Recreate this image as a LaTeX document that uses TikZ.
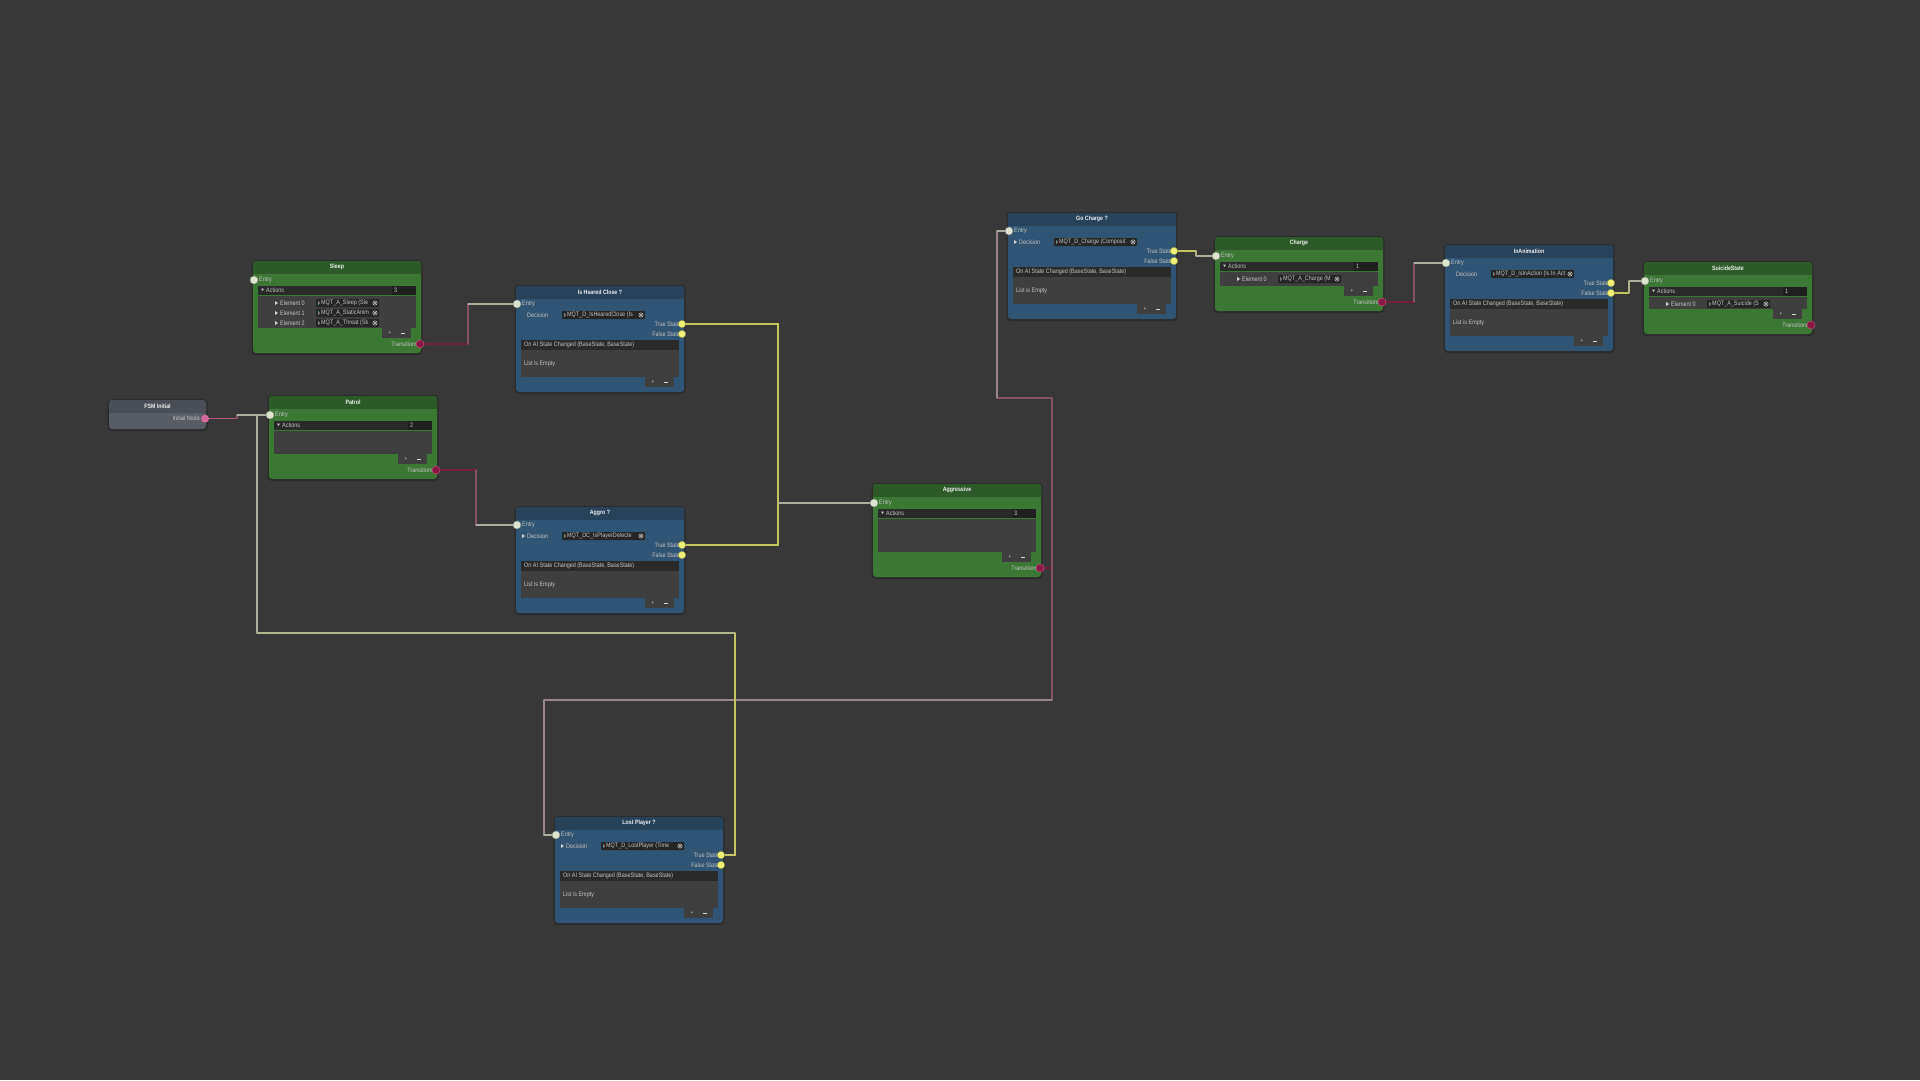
\documentclass[tikz,border=0pt]{standalone}
\usepackage{fontspec}
\setmainfont{Liberation Sans}[FakeStretch=0.85]
\usetikzlibrary{calc}
\pgfdeclarelayer{bg}
\pgfdeclarelayer{edges}
\pgfsetlayers{bg,edges,main}

\definecolor{canvas}{HTML}{383838}
\definecolor{greenbody}{HTML}{3A7834}
\definecolor{greenhead}{HTML}{2D5A28}
\definecolor{bluebody}{HTML}{305473}
\definecolor{bluehead}{HTML}{28425A}
\definecolor{fsmbody}{HTML}{585C64}
\definecolor{fsmhead}{HTML}{4A4E56}
\definecolor{bardark}{HTML}{2A2A2A}
\definecolor{countdark}{HTML}{202020}
\definecolor{listbody}{HTML}{3F3F3F}
\definecolor{fielddark}{HTML}{252525}
\definecolor{labelc}{HTML}{C4C4C4}
\definecolor{titlec}{HTML}{EEEEEE}
\definecolor{entryc}{HTML}{DDE4D0}
\definecolor{statec}{HTML}{F0F078}
\definecolor{transc}{HTML}{8A1744}
\definecolor{transrim}{HTML}{C0507E}
\definecolor{initc}{HTML}{D46A9E}
\definecolor{trA}{HTML}{741E40}
\definecolor{trB}{HTML}{865268}
\definecolor{trC}{HTML}{98848A}
\definecolor{paleC}{HTML}{AEAE9E}
\definecolor{ylA}{HTML}{C4C462}
\definecolor{ylB}{HTML}{B4B48A}
\definecolor{pkA}{HTML}{B85886}
\definecolor{iconA}{HTML}{B04A4A}
\definecolor{iconB}{HTML}{4A8C8C}

\tikzset{
  lbl/.style={inner sep=0pt, text=labelc, font=\fontsize{6.4}{7}\selectfont},
  ttl/.style={inner sep=0pt, text=titlec, font=\bfseries\fontsize{6.2}{7}\selectfont},
  inport/.style={circle, inner sep=0pt, minimum size=8, fill=entryc, draw=entryc!60!black, line width=0.4},
  stateport/.style={circle, inner sep=0pt, minimum size=7.5, fill=statec, draw=statec!60!black, line width=0.4},
  transport/.style={circle, inner sep=0pt, minimum size=8, fill=transc, draw=transrim, line width=0.5},
  initport/.style={circle, inner sep=0pt, minimum size=8, fill=initc},
  edge/.style={line width=1.05, line cap=round},
  shade/.style={black, opacity=0.22, rounded corners=4},
}

% object field: dark box, script icon, clipped name, clear button
\newcommand{\valuefield}[4]{%
  \fill[fielddark, rounded corners=0.8] (#1,#3-4) rectangle (#2,#3+4);
  \fill[iconB] (#1+2.3,#3-1.8) rectangle (#1+3.1,#3+1.8);
  \fill[iconA] (#1+3.1,#3-0.8) rectangle (#1+3.9,#3+1.2);
  \begin{scope}
    \clip (#1,#3-4) rectangle (#2-7,#3+4);
    \node[lbl, anchor=west] at (#1+5,#3) {#4};
  \end{scope}
  \draw[labelc, line width=0.5] (#2-4,#3) circle (2.2);
  \draw[labelc, line width=0.5] (#2-5.4,#3-1.4) -- (#2-2.6,#3+1.4) (#2-5.4,#3+1.4) -- (#2-2.6,#3-1.4);
}

% add / remove tab under a list
\newcommand{\plusminus}[2]{%
  \fill[listbody] (#1,#2) rectangle (#1+29,#2+10);
  \node[inner sep=0pt, text=labelc!85, font=\fontsize{5.5}{6}\selectfont] at (#1+8,#2+4.5) {+};
  \draw[labelc!70, line width=0.6] (#1+19,#2+4.8) -- (#1+23,#2+4.8);
}

% one entry of an action list
\newcommand{\element}[2]{%
  \pgfmathsetmacro\ey{42+10*#1}
  \fill[labelc!80] (22,\ey-2) -- (25,\ey) -- (22,\ey+2) -- cycle;
  \node[lbl, anchor=west] at (27,\ey) {Element #1};
  \valuefield{63}{126}{\ey}{#2}
}

% state node: id, x, y, list end, title, count, elements
\newcommand{\actionnode}[7]{%
\begin{scope}[shift={(#2,#3)}]
  \fill[shade] (-1.5,-1) rectangle (169.5,#4+27);
  \fill[greenbody, rounded corners=3] (0,0) rectangle (168,#4+25);
  \begin{scope}
    \clip (0,0) rectangle (168,12);
    \fill[greenhead, rounded corners=3] (0,0) rectangle (168,#4+25);
  \end{scope}
  \node[ttl] (#1) at (84,6) {#5};
  \fill[bardark] (5,25) rectangle (163,34);
  \fill[countdark] (139,25) rectangle (163,34);
  \fill[labelc] (8,27.5) -- (11,27.5) -- (9.5,30) -- cycle;
  \node[lbl, anchor=west] (#1ActL) at (13,29.7) {Actions};
  \node[lbl, anchor=west] (#1Count) at (141,29.7) {#6};
  \fill[listbody] (5,35) rectangle (163,#4);
  #7
  \plusminus{129}{#4}
  \node[lbl, anchor=east] (#1OutL) at (165,#4+16) {Transitions};
  \node[transport] (#1Out) at (167,#4+16) {};
  \node[lbl, anchor=west] (#1InL) at (6,19) {Entry};
  \node[inport] (#1In) at (1,19) {};
\end{scope}}

% decision node: id, x, y, title, decision name, arrow flag
\newcommand{\decisionnode}[6]{%
\begin{scope}[shift={(#2,#3)}]
  \fill[shade] (-1.5,-1) rectangle (169.5,108);
  \fill[bluebody, rounded corners=3] (0,0) rectangle (168,106);
  \begin{scope}
    \clip (0,0) rectangle (168,12);
    \fill[bluehead, rounded corners=3] (0,0) rectangle (168,106);
  \end{scope}
  \node[ttl] (#1) at (84,6) {#4};
  \node[lbl, anchor=west] (#1InL) at (6,18) {Entry};
  \node[inport] (#1In) at (1,18) {};
  \ifnum#6=1 \fill[labelc!80] (6,27) -- (9,29) -- (6,31) -- cycle; \fi
  \node[lbl, anchor=west] (#1DecL) at (11,29) {Decision};
  \valuefield{46}{129}{29}{#5}
  \node[lbl, anchor=east] (#1TrueL) at (164,38) {True State};
  \node[lbl, anchor=east] (#1FalseL) at (164,48) {False State};
  \node[stateport] (#1True) at (166,38) {};
  \node[stateport] (#1False) at (166,48) {};
  \fill[bardark] (5,54) rectangle (163,64);
  \node[lbl, anchor=west] (#1EvL) at (8,59) {On AI State Changed (BaseState, BaseState)};
  \fill[listbody] (5,64) rectangle (163,91);
  \node[lbl, anchor=west] (#1EmptyL) at (8,78) {List is Empty};
  \plusminus{129}{91}
\end{scope}}

% elbow connector: out port, in port, bend column, three segment colours
\newcommand{\stepedge}[6]{%
  \draw[edge,#4] (#1.center) -- (#1.center -| #3);
  \draw[edge,#5] (#1.center -| #3) -- (#2.center -| #3);
  \draw[edge,#6] (#2.center -| #3) -- (#2.center);
}

\begin{document}
\begin{tikzpicture}[x=1pt, y=-1pt]
\useasboundingbox (0,0) rectangle (1920,1080);
\begin{pgfonlayer}{bg}
  \fill[canvas] (0,0) rectangle (1920,1080);
\end{pgfonlayer}

% entry node
\begin{scope}[shift={(109,400)}]
  \fill[shade] (-1.5,-1) rectangle (98.5,31);
  \fill[fsmbody, rounded corners=3] (0,0) rectangle (97,29);
  \begin{scope}
    \clip (0,0) rectangle (97,12);
    \fill[fsmhead, rounded corners=3] (0,0) rectangle (97,29);
  \end{scope}
  \node[ttl] (fsm) at (48.5,6) {FSM Initial};
  \node[lbl, anchor=east] (fsmOutL) at (91,18.7) {Initial Node};
  \node[initport] (fsmOut) at (96,18.7) {};
\end{scope}

% states
\actionnode{sleep}{253}{261}{67}{Sleep}{3}{%
  \element{0}{MQT\_A\_Sleep (Sle}%
  \element{1}{MQT\_A\_StaticAnim}%
  \element{2}{MQT\_A\_Threat (Sk}}
\actionnode{patrol}{269}{396}{58}{Patrol}{2}{}
\actionnode{aggressive}{873}{484}{68}{Aggressive}{3}{}
\actionnode{charge}{1215}{237}{49}{Charge}{1}{\element{0}{MQT\_A\_Charge (M}}
\actionnode{suicide}{1644}{262}{47}{SuicideState}{1}{\element{0}{MQT\_A\_Suicide (S}}

% decisions
\decisionnode{heard}{516}{286}{Is Heared Close ?}{MQT\_D\_IsHearedClose (Is}{0}
\decisionnode{aggro}{516}{507}{Aggro ?}{MQT\_DC\_IsPlayerDetecte}{1}
\decisionnode{gocharge}{1008}{213}{Go Charge ?}{MQT\_D\_Charge (Composit}{1}
\decisionnode{inanim}{1445}{245}{InAnimation}{MQT\_D\_IsInAction (Is In Act}{0}
\decisionnode{lost}{555}{817}{Lost Player ?}{MQT\_D\_LostPlayer (Time}{1}

% bend columns / corners of the wires
\coordinate (kA) at (237,0);
\coordinate (kB) at (468,0);
\coordinate (kC) at (476,0);
\coordinate (kK) at (778,0);
\coordinate (kL) at (1196,0);
\coordinate (kM) at (1414,0);
\coordinate (kN) at (1629,0);
\coordinate (kE) at (1052,398);
\coordinate (kF) at (997,398);
\coordinate (kG) at (1052,700);
\coordinate (kH) at (544,700);
\coordinate (kI) at (735,633);
\coordinate (kJ) at (257,633);

\begin{pgfonlayer}{edges}
  \stepedge{fsmOut}{patrolIn}{kA}{pkA}{trB}{paleC}
  \stepedge{sleepOut}{heardIn}{kB}{trA}{trB}{paleC}
  \stepedge{patrolOut}{aggroIn}{kC}{trA}{trB}{paleC}
  % both true branches feed the aggressive state
  \draw[edge,ylA] (heardTrue.center) -- (heardTrue.center -| kK) -- (aggressiveIn.center -| kK);
  \draw[edge,ylA] (aggroTrue.center) -- (aggroTrue.center -| kK) -- (aggressiveIn.center -| kK);
  \draw[edge,paleC] (aggressiveIn.center -| kK) -- (aggressiveIn.center);
  % aggressive transitions, up to Go Charge and down to Lost Player
  \draw[edge,trA] (aggressiveOut.center) -- (aggressiveOut.center -| kE);
  \draw[edge,trB] (aggressiveOut.center -| kE) -- (kE);
  \draw[edge,trB] (kE) -- (kF);
  \draw[edge,trC] (kF) -- (gochargeIn.center -| kF);
  \draw[edge,paleC] (gochargeIn.center -| kF) -- (gochargeIn.center);
  \draw[edge,trB] (aggressiveOut.center -| kG) -- (kG);
  \draw[edge,trC] (kG) -- (kH);
  \draw[edge,trC] (kH) -- (lostIn.center -| kH);
  \draw[edge,paleC] (lostIn.center -| kH) -- (lostIn.center);
  % lost player back to patrol
  \draw[edge,ylA] (lostTrue.center) -- (lostTrue.center -| kI) -- (kI);
  \draw[edge,ylB] (kI) -- (kJ);
  \draw[edge,paleC] (kJ) -- (patrolIn.center -| kJ) -- (patrolIn.center);
  % charge chain
  \stepedge{gochargeTrue}{chargeIn}{kL}{ylA}{ylB}{paleC}
  \stepedge{chargeOut}{inanimIn}{kM}{trA}{trB}{paleC}
  \stepedge{inanimFalse}{suicideIn}{kN}{ylA}{ylB}{paleC}
\end{pgfonlayer}
\end{tikzpicture}
\end{document}
